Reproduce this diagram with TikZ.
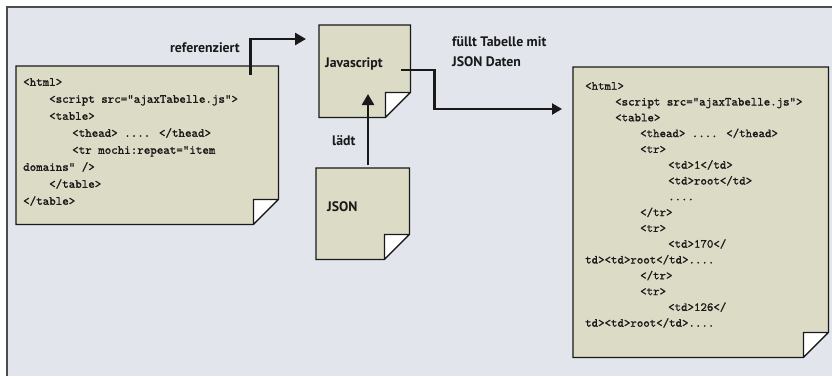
\documentclass[tikz,border=0pt]{standalone}
\usepackage{fontspec}
\newfontfamily\lblfont{PT Sans}
\newfontfamily\codefont{lmmono10-regular.otf}[FakeBold=1.2]
\usetikzlibrary{arrows.meta,calc}
\definecolor{bgcol}{RGB}{226,229,235}
\definecolor{notecol}{RGB}{220,219,198}
\definecolor{inkcol}{RGB}{25,25,25}
\newcommand\notebox[1]{%
  \filldraw[notestyle] (#1.north west) -- (#1.north east) -- ([yshift=25pt]#1.south east)
    -- ([xshift=-25pt]#1.south east) -- (#1.south west) -- cycle;
  \filldraw[flapstyle] ([yshift=25pt]#1.south east) -- ([shift={(-25pt,25pt)}]#1.south east)
    -- ([xshift=-25pt]#1.south east) -- cycle;
}
\tikzset{
  notearea/.style={draw=none, inner sep=0pt, anchor=north west},
  notestyle/.style={fill=notecol, draw=inkcol, line width=1.3pt, line join=miter},
  flapstyle/.style={fill=white, draw=inkcol, line width=1.3pt, line join=round},
  lbl/.style={font=\lblfont\bfseries\fontsize{13.8}{20}\selectfont, text=inkcol, inner sep=0pt},
  codeL/.style={font=\codefont\fontsize{12.4}{17}\selectfont, text=inkcol, align=left, inner sep=0pt, anchor=north west},
  codeR/.style={font=\codefont\fontsize{12.3}{15.8}\selectfont, text=inkcol, align=left, inner sep=0pt, anchor=north west},
  conn/.style={draw=inkcol, line width=2.6pt, -{Triangle[length=11pt,width=12pt]}},
  connthin/.style={draw=inkcol, line width=2.2pt, -{Triangle[length=10pt,width=11pt]}},
}
\begin{document}
\begin{tikzpicture}[x=1pt,y=-1pt]
\useasboundingbox (0,0) rectangle (832,376);
% background panel
\fill[bgcol] (7,7) rectangle (832,376);
\draw[black!70, line width=1.2pt] (7,376) -- (7,7) -- (832,7);

% note areas
\node[notearea, minimum width=262pt, minimum height=158pt] (html) at (16,66) {};
\node[notearea, minimum width=91pt, minimum height=92pt] (js) at (319,25) {};
\node[notearea, minimum width=93pt, minimum height=91pt] (json) at (316,168) {};
\node[notearea, minimum width=255pt, minimum height=290pt] (out) at (573,67) {};
\notebox{html}
\notebox{js}
\notebox{json}
\notebox{out}

% connectors
\coordinate (refStart) at ([shift={(-28pt,-9pt)}]html.north east);
\coordinate (refEnd) at ([shift={(-13pt,-14pt)}]js.north west);
\draw[conn] (refStart) |- (refEnd);

\coordinate (fillStart) at ([shift={(-9pt,-45pt)}]js.north east);
\coordinate (fillEnd) at ([shift={(-11pt,-42pt)}]out.north west);
\draw[connthin] (fillStart) -- ++(33pt,0pt) |- (fillEnd);

\coordinate (loadStart) at ([shift={(52pt,3pt)}]json.north west);
\coordinate (loadEnd) at ([shift={(49pt,-69pt)}]js.north west);
\draw[conn] (loadStart) -- (loadStart |- loadEnd);

% labels
\node[lbl, anchor=east] (lref) at (240,48) {referenziert};
\node[lbl, anchor=west] (ljs) at ([shift={(6pt,-39pt)}]js.north west) {Javascript};
\node[lbl, anchor=west] (ljson) at ([shift={(11pt,-39pt)}]json.north west) {JSON};
\node[lbl, anchor=west] (lload) at (332,141) {lädt};
\node[lbl, anchor=north west, align=left] (lfill) at (452,36) {füllt Tabelle mit\\JSON Daten};

% code
\node[codeL] (codeleft) at (23,78) {%
<html>\\
\hspace*{26pt}<script src="ajaxTabelle.js">\\
\hspace*{26pt}<table>\\
\hspace*{49pt}<thead> .... </thead>\\
\hspace*{49pt}<tr mochi:repeat="item\\
domains" />\\
\hspace*{26pt}</table>\\
</table>};

\node[codeR] (coderight) at (585,82) {%
<html>\\
\hspace*{30pt}<script src="ajaxTabelle.js">\\
\hspace*{30pt}<table>\\
\hspace*{55pt}<thead> .... </thead>\\
\hspace*{55pt}<tr>\\
\hspace*{83pt}<td>1</td>\\
\hspace*{83pt}<td>root</td>\\
\hspace*{83pt}....\\
\hspace*{55pt}</tr>\\
\hspace*{55pt}<tr>\\
\hspace*{83pt}<td>170</\\
td><td>root</td>....\\
\hspace*{55pt}</tr>\\
\hspace*{55pt}<tr>\\
\hspace*{83pt}<td>126</\\
td><td>root</td>....};
\end{tikzpicture}
\end{document}
